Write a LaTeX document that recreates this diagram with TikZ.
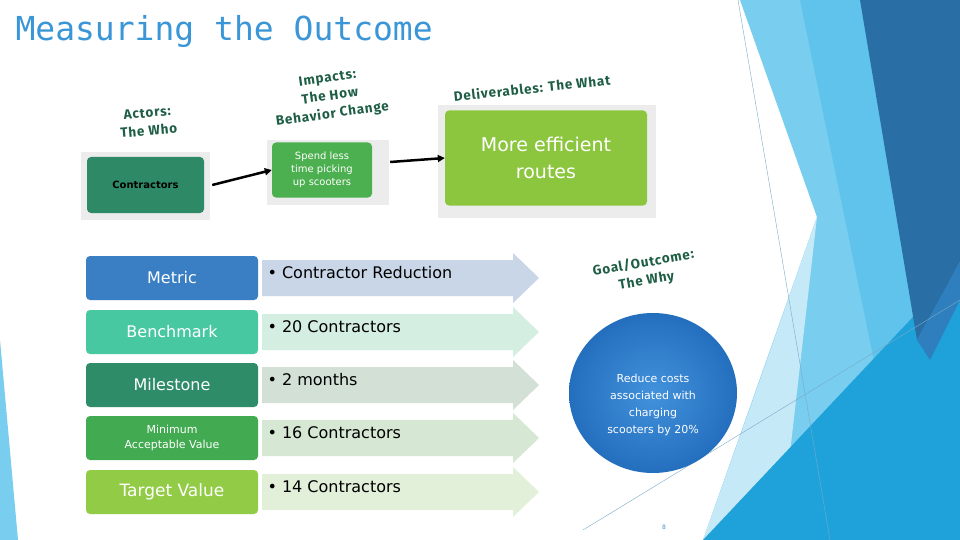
\documentclass[tikz,border=0pt]{standalone}
\usepackage{fontspec}
\setmainfont{DejaVu Sans}
\newfontfamily\titlefont{DejaVu Sans Mono}
\newfontfamily\handfont[LetterSpace=6]{Fira Sans}
\usetikzlibrary{arrows.meta}
\definecolor{hand}{HTML}{1E5E45}
\definecolor{rc0}{HTML}{C8D6E8}
\definecolor{rc1}{HTML}{D4EEE2}
\definecolor{rc2}{HTML}{D2E0D6}
\definecolor{rc3}{HTML}{D6E8D4}
\definecolor{rc4}{HTML}{E2F0DA}
\definecolor{lc0}{HTML}{3A7EC4}
\definecolor{lc1}{HTML}{48C8A0}
\definecolor{lc2}{HTML}{2E8C68}
\definecolor{lc3}{HTML}{42AA50}
\definecolor{lc4}{HTML}{92CC46}
\begin{document}
\begin{tikzpicture}[x=1pt,y=-1pt,
  lab/.style={rounded corners=4pt,text=white,font=\bfseries,align=center,inner sep=0},
  rowlab/.style={lab,minimum width=172pt,minimum height=44pt,font=\fontsize{16}{17}\selectfont},
  hl/.style={text=hand,font=\handfont\bfseries\fontsize{13.5}{18}\selectfont,align=center},
  ar/.style={-{Triangle[length=7pt,width=7pt]},line width=2.5pt,black}]
\useasboundingbox (0,0) rectangle (960,540);
\fill[white] (0,0) rectangle (960,540);
% background
\fill[color={rgb,255:red,121;green,205;blue,238}] (740,0)--(960,0)--(960,540)--(703,540)--(817,217)--cycle;
\fill[color={rgb,255:red,198;green,233;blue,247}] (817,217)--(760,380)--(703,540)--(780,540)--cycle;
\fill[color={rgb,255:red,95;green,195;blue,236}] (800,0)--(862,0)--(917,340)--(880,390)--cycle;
\fill[color={rgb,255:red,30;green,162;blue,217}] (703,540)--(960,267)--(960,540)--cycle;
\fill[color={rgb,255:red,42;green,110;blue,166}] (860,0)--(960,0)--(960,262)--(917,340)--cycle;
\fill[color={rgb,255:red,47;green,127;blue,191}] (917,340)--(960,262)--(960,300)--(930,360)--cycle;
\draw[color={rgb,255:red,120;green,170;blue,200},line width=0.4pt] (738,0)--(830,540);
\draw[color={rgb,255:red,120;green,170;blue,200},line width=0.4pt] (583,530)--(960,300);
\fill[color={rgb,255:red,121;green,205;blue,238}] (0,340)--(18,540)--(0,540)--cycle;
% title
\node[anchor=west,text={rgb,255:red,58;green,150;blue,214},font=\titlefont\fontsize{33}{36}\selectfont] (title) at (12,32) {Measuring the Outcome};
% top images
\fill[gray!15] (81,152) rectangle (210,220);
\node[lab,fill={rgb,255:red,46;green,138;blue,102},text=black,minimum width=117pt,minimum height=56pt,font=\bfseries\fontsize{10}{11}\selectfont] (act) at (145.5,185) {Contractors};
\fill[gray!15] (267,140) rectangle (389,205);
\node[lab,fill={rgb,255:red,76;green,175;blue,80},minimum width=100pt,minimum height=55pt,font=\fontsize{10}{13}\selectfont] (imp) at (322,170) {Spend less\\time picking\\up scooters};
\fill[gray!15] (438,105) rectangle (656,218);
\node[lab,fill={rgb,255:red,140;green,198;blue,63},minimum width=202pt,minimum height=95pt,font=\fontsize{19}{27}\selectfont] (del) at (546,158) {More efficient\\routes};
\draw[ar] (act.east) ++(8,0) -- (imp.west);
\draw[ar] (imp.east) ++(18,-8) -- (del.west);
\node[hl,rotate=5] (la) at (148,122) {Actors:\\The Who};
\node[hl,rotate=8] (li) at (330,97) {Impacts:\\The How\\Behavior Change};
\node[hl,rotate=6] (ld) at (532,88) {Deliverables: The What};
\node[hl,rotate=10] (lg) at (645,272) {Goal/Outcome:\\The Why};
% circle
\shade[inner color={rgb,255:red,66;green,146;blue,220},outer color={rgb,255:red,36;green,110;blue,190}] (653,393) ellipse [x radius=84,y radius=80];
\node[text=white,align=center,font=\fontsize{11}{17}\selectfont] (goal) at (653,405) {Reduce costs\\associated with\\charging\\scooters by 20\%};
\node[text={rgb,255:red,80;green,140;blue,190},font=\fontsize{6}{6}\selectfont] (pg) at (664,527) {8};
% table
\foreach \t/\val [count=\i from 0] in {256/{Contractor Reduction},310/{20 Contractors},363/{2 months},416/{16 Contractors},470/{14 Contractors}}{
  \fill[rc\i] (262,\t+4) -- (513,\t+4) -- (513,\t-3) -- (539,\t+22) -- (513,\t+47) -- (513,\t+40) -- (262,\t+40) -- cycle;
  \node[anchor=west,font=\fontsize{16}{18}\selectfont] (v\i) at (264,\t+17) {\textbullet\ \val};
}
\node[rowlab,fill=lc0] (m0) at (172,278) {Metric};
\node[rowlab,fill=lc1] (m1) at (172,332) {Benchmark};
\node[rowlab,fill=lc2] (m2) at (172,385) {Milestone};
\node[rowlab,fill=lc3,font=\fontsize{11}{15}\selectfont] (m3) at (172,438) {Minimum\\Acceptable Value};
\node[rowlab,fill=lc4,font=\fontsize{17}{18}\selectfont] (m4) at (172,492) {Target Value};
\end{tikzpicture}
\end{document}
